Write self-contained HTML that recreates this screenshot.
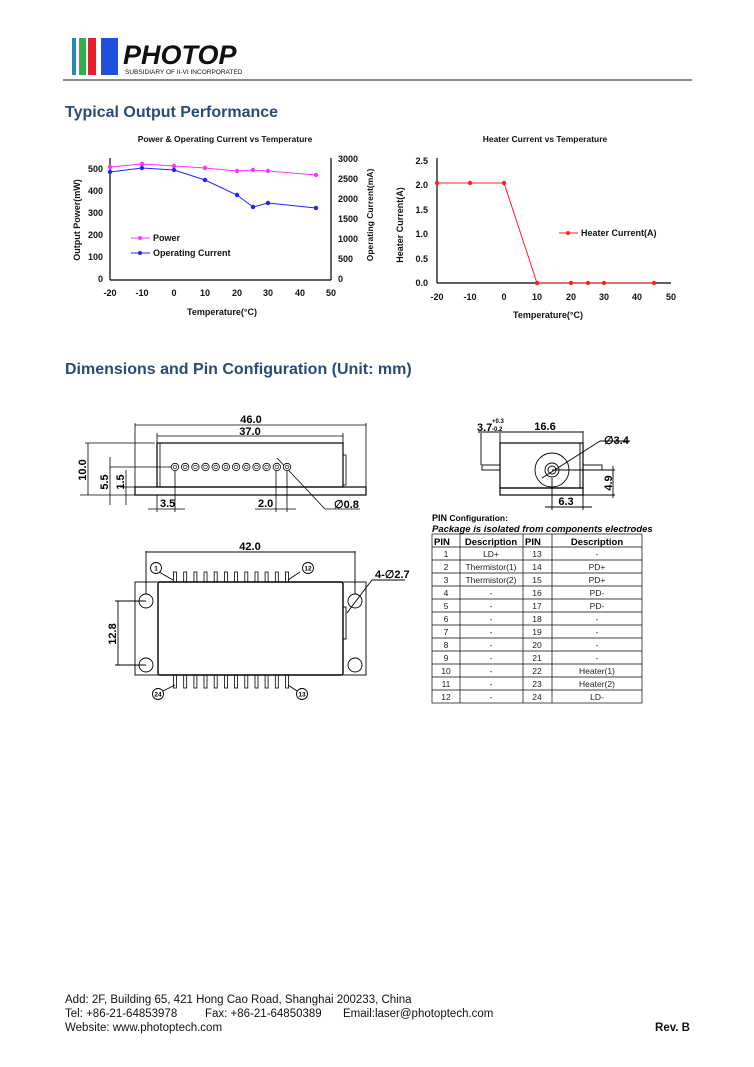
<!DOCTYPE html>
<html><head><meta charset="utf-8"><style>
body{margin:0;background:#fff;}
svg{display:block;font-family:"Liberation Sans",Arial,sans-serif;}
</style></head><body>
<svg width="754" height="1067" viewBox="0 0 754 1067" xmlns="http://www.w3.org/2000/svg">
<!-- logo -->
<rect x="72" y="38" width="4" height="37" fill="#1e8bb8"/>
<rect x="79" y="38" width="7" height="37" fill="#2eb04a"/>
<rect x="88" y="38" width="8" height="37" fill="#e8202a"/>
<rect x="101" y="38" width="17" height="37" fill="#1f4fe0"/>
<text x="123" y="64" font-size="27" font-weight="bold" font-style="italic" fill="#111">PHOTOP</text>
<text x="125" y="74" font-size="6.5" fill="#111">SUBSIDIARY OF II-VI INCORPORATED</text>
<line x1="63" y1="80" x2="692" y2="80" stroke="#666" stroke-width="1.5"/>
<text x="65" y="117" font-size="16" font-weight="bold" fill="#2a4a78">Typical Output Performance</text>

<!-- chart 1 -->
<g font-size="9" font-weight="bold" fill="#111">
<text x="225" y="142" text-anchor="middle" font-size="8.5">Power &amp; Operating Current vs Temperature</text>
<line x1="110" y1="158" x2="110" y2="280" stroke="#000" stroke-width="1.2"/>
<line x1="110" y1="280" x2="331" y2="280" stroke="#000" stroke-width="1.2"/>
<line x1="331" y1="158" x2="331" y2="280" stroke="#000" stroke-width="1.2"/>
<g text-anchor="end">
<text x="103" y="282">0</text><text x="103" y="260">100</text><text x="103" y="238">200</text><text x="103" y="216">300</text><text x="103" y="194">400</text><text x="103" y="172">500</text>
</g>
<g>
<text x="338" y="282">0</text><text x="338" y="262">500</text><text x="338" y="242">1000</text><text x="338" y="222">1500</text><text x="338" y="202">2000</text><text x="338" y="182">2500</text><text x="338" y="162">3000</text>
</g>
<g text-anchor="middle">
<text x="110" y="296">-20</text><text x="142" y="296">-10</text><text x="174" y="296">0</text><text x="205" y="296">10</text><text x="237" y="296">20</text><text x="268" y="296">30</text><text x="300" y="296">40</text><text x="331" y="296">50</text>
<text x="222" y="315">Temperature(°C)</text>
</g>
<text transform="translate(80,220) rotate(-90)" text-anchor="middle">Output Power(mW)</text>
<text transform="translate(373,215) rotate(-90)" text-anchor="middle" font-size="8.5">Operating Current(mA)</text>
<polyline fill="none" stroke="#ff33ff" stroke-width="1" points="110,167 142,164 174,166 205,168 237,171 253,170 268,171 316,175"/>
<g fill="#ff33ff"><circle cx="110" cy="167" r="2.2"/><circle cx="142" cy="164" r="2.2"/><circle cx="174" cy="166" r="2.2"/><circle cx="205" cy="168" r="2.2"/><circle cx="237" cy="171" r="2.2"/><circle cx="253" cy="170" r="2.2"/><circle cx="268" cy="171" r="2.2"/><circle cx="316" cy="175" r="2.2"/></g>
<polyline fill="none" stroke="#2222ff" stroke-width="1" points="110,172 142,168 174,170 205,180 237,195 253,207 268,203 316,208"/>
<g fill="#2222ff"><circle cx="110" cy="172" r="2.2"/><circle cx="142" cy="168" r="2.2"/><circle cx="174" cy="170" r="2.2"/><circle cx="205" cy="180" r="2.2"/><circle cx="237" cy="195" r="2.2"/><circle cx="253" cy="207" r="2.2"/><circle cx="268" cy="203" r="2.2"/><circle cx="316" cy="208" r="2.2"/></g>
<line x1="131" y1="238" x2="150" y2="238" stroke="#ff33ff"/><circle cx="140" cy="238" r="2" fill="#ff33ff"/>
<text x="153" y="241">Power</text>
<line x1="131" y1="253" x2="150" y2="253" stroke="#2222ff"/><circle cx="140" cy="253" r="2" fill="#2222ff"/>
<text x="153" y="256">Operating Current</text>
</g>

<!-- chart 2 -->
<g font-size="9" font-weight="bold" fill="#111">
<text x="545" y="142" text-anchor="middle" font-size="8.5">Heater Current vs Temperature</text>
<line x1="437" y1="158" x2="437" y2="283" stroke="#000" stroke-width="1.2"/>
<line x1="437" y1="283" x2="671" y2="283" stroke="#000" stroke-width="1.2"/>
<g text-anchor="end">
<text x="428" y="286">0.0</text><text x="428" y="262">0.5</text><text x="428" y="237">1.0</text><text x="428" y="213">1.5</text><text x="428" y="188">2.0</text><text x="428" y="164">2.5</text>
</g>
<g text-anchor="middle">
<text x="437" y="300">-20</text><text x="470" y="300">-10</text><text x="504" y="300">0</text><text x="537" y="300">10</text><text x="571" y="300">20</text><text x="604" y="300">30</text><text x="637" y="300">40</text><text x="671" y="300">50</text>
<text x="548" y="318">Temperature(°C)</text>
</g>
<text transform="translate(403,225) rotate(-90)" text-anchor="middle">Heater Current(A)</text>
<polyline fill="none" stroke="#ff2020" stroke-width="1" points="437,183 470,183 504,183 537,283 571,283 588,283 604,283 654,283"/>
<g fill="#ff2020"><circle cx="437" cy="183" r="2.2"/><circle cx="470" cy="183" r="2.2"/><circle cx="504" cy="183" r="2.2"/><circle cx="537" cy="283" r="2.2"/><circle cx="571" cy="283" r="2.2"/><circle cx="588" cy="283" r="2.2"/><circle cx="604" cy="283" r="2.2"/><circle cx="654" cy="283" r="2.2"/></g>
<line x1="559" y1="233" x2="578" y2="233" stroke="#ff2020"/><circle cx="568" cy="233" r="2" fill="#ff2020"/>
<text x="581" y="236">Heater Current(A)</text>
</g>

<text x="65" y="374" font-size="16" font-weight="bold" fill="#2a4a78">Dimensions and Pin Configuration (Unit: mm)</text>

<!-- side view -->
<g stroke="#000" fill="none" stroke-width="0.8">
<rect x="157" y="443" width="186" height="44" stroke-width="1.2"/>
<line x1="160" y1="443" x2="160" y2="487"/>
<rect x="135" y="487" width="231" height="8" stroke-width="1.2"/>
<rect x="343" y="455" width="3" height="30"/>
<line x1="135" y1="423" x2="135" y2="487"/><line x1="366" y1="423" x2="366" y2="487"/>
<line x1="135" y1="425" x2="366" y2="425"/>
<line x1="157" y1="436" x2="343" y2="436"/>
<line x1="157" y1="433" x2="157" y2="443"/><line x1="343" y1="433" x2="343" y2="443"/>
<line x1="85" y1="443" x2="155" y2="443"/>
<line x1="88" y1="443" x2="88" y2="495"/>
<line x1="110" y1="467" x2="175" y2="467"/>
<line x1="110" y1="457" x2="110" y2="505"/>
<line x1="126" y1="470" x2="126" y2="505"/>
<line x1="120" y1="487" x2="135" y2="487"/>
<line x1="80" y1="495" x2="135" y2="495"/>
<line x1="175" y1="467" x2="175" y2="512"/><line x1="157" y1="495" x2="157" y2="512"/>
<line x1="148" y1="509" x2="185" y2="509"/>
<line x1="276" y1="467" x2="276" y2="512"/><line x1="287" y1="467" x2="287" y2="512"/>
<line x1="255" y1="509" x2="296" y2="509"/>
<line x1="277" y1="458" x2="325" y2="509"/><line x1="325" y1="509" x2="360" y2="509"/>
</g>
<g fill="#fff" stroke="#000" stroke-width="0.8">
<circle cx="175" cy="467" r="3.7"/><circle cx="185.2" cy="467" r="3.7"/><circle cx="195.4" cy="467" r="3.7"/><circle cx="205.5" cy="467" r="3.7"/><circle cx="215.7" cy="467" r="3.7"/><circle cx="225.9" cy="467" r="3.7"/><circle cx="236.1" cy="467" r="3.7"/><circle cx="246.3" cy="467" r="3.7"/><circle cx="256.5" cy="467" r="3.7"/><circle cx="266.6" cy="467" r="3.7"/><circle cx="276.8" cy="467" r="3.7"/><circle cx="287" cy="467" r="3.7"/>
</g>
<g fill="none" stroke="#000" stroke-width="0.6">
<circle cx="175" cy="467" r="1.8"/><circle cx="185.2" cy="467" r="1.8"/><circle cx="195.4" cy="467" r="1.8"/><circle cx="205.5" cy="467" r="1.8"/><circle cx="215.7" cy="467" r="1.8"/><circle cx="225.9" cy="467" r="1.8"/><circle cx="236.1" cy="467" r="1.8"/><circle cx="246.3" cy="467" r="1.8"/><circle cx="256.5" cy="467" r="1.8"/><circle cx="266.6" cy="467" r="1.8"/><circle cx="276.8" cy="467" r="1.8"/><circle cx="287" cy="467" r="1.8"/>
</g>
<g font-size="11" font-weight="bold" fill="#000">
<text x="251" y="423" text-anchor="middle">46.0</text>
<text x="250" y="435" text-anchor="middle">37.0</text>
<text transform="translate(86,470) rotate(-90)" text-anchor="middle">10.0</text>
<text transform="translate(108,482) rotate(-90)" text-anchor="middle">5.5</text>
<text transform="translate(124,482) rotate(-90)" text-anchor="middle">1.5</text>
<text x="160" y="507">3.5</text>
<text x="258" y="507">2.0</text>
<text x="334" y="508">∅0.8</text>
</g>

<!-- bottom view -->
<g stroke="#000" fill="none" stroke-width="0.9">
<rect x="135" y="582" width="231" height="93"/>
<rect x="158" y="582" width="185" height="93" rx="2" stroke-width="1.4"/>
<circle cx="146" cy="601" r="7"/><circle cx="146" cy="665" r="7"/><circle cx="355" cy="601" r="7"/><circle cx="355" cy="665" r="7"/>
<rect x="343" y="607" width="3" height="32"/>
<line x1="146" y1="551" x2="146" y2="594"/><line x1="355" y1="551" x2="355" y2="594"/>
<line x1="146" y1="552" x2="355" y2="552"/>
<line x1="115" y1="601" x2="146" y2="601"/><line x1="115" y1="665" x2="146" y2="665"/>
<line x1="118" y1="601" x2="118" y2="665"/>
<line x1="347" y1="613" x2="365" y2="589"/><line x1="365" y1="589" x2="372" y2="580"/><line x1="372" y1="580" x2="405" y2="580"/>
<line x1="159" y1="572" x2="173" y2="580"/><line x1="300" y1="572" x2="288" y2="580"/>
<line x1="163" y1="691" x2="175" y2="685"/><line x1="297" y1="691" x2="288" y2="685"/>
<g stroke-width="0.8">
<rect x="173.5" y="572" width="3" height="10"/><rect x="183.7" y="572" width="3" height="10"/><rect x="193.9" y="572" width="3" height="10"/><rect x="204" y="572" width="3" height="10"/><rect x="214.2" y="572" width="3" height="10"/><rect x="224.4" y="572" width="3" height="10"/><rect x="234.6" y="572" width="3" height="10"/><rect x="244.8" y="572" width="3" height="10"/><rect x="255" y="572" width="3" height="10"/><rect x="265.1" y="572" width="3" height="10"/><rect x="275.3" y="572" width="3" height="10"/><rect x="285.5" y="572" width="3" height="10"/>
<rect x="173.5" y="675" width="3" height="13"/><rect x="183.7" y="675" width="3" height="13"/><rect x="193.9" y="675" width="3" height="13"/><rect x="204" y="675" width="3" height="13"/><rect x="214.2" y="675" width="3" height="13"/><rect x="224.4" y="675" width="3" height="13"/><rect x="234.6" y="675" width="3" height="13"/><rect x="244.8" y="675" width="3" height="13"/><rect x="255" y="675" width="3" height="13"/><rect x="265.1" y="675" width="3" height="13"/><rect x="275.3" y="675" width="3" height="13"/><rect x="285.5" y="675" width="3" height="13"/>
</g>
<circle cx="156" cy="568" r="5.5"/><circle cx="308" cy="568" r="5.5"/><circle cx="158" cy="694" r="5.5"/><circle cx="302" cy="694" r="5.5"/>
</g>
<g font-weight="bold" fill="#000">
<text x="250" y="550" text-anchor="middle" font-size="11">42.0</text>
<text transform="translate(116,634) rotate(-90)" text-anchor="middle" font-size="11">12.8</text>
<text x="375" y="578" font-size="11">4-∅2.7</text>
<g font-size="6.5" text-anchor="middle"><text x="156" y="570.5">1</text><text x="308" y="570.5">12</text><text x="158" y="696.5">24</text><text x="302" y="696.5">13</text></g>
</g>

<!-- end view -->
<g stroke="#000" fill="none" stroke-width="0.9">
<rect x="500" y="443" width="83" height="45" stroke-width="1.2"/>
<rect x="500" y="488" width="83" height="7" stroke-width="1.2"/>
<line x1="580" y1="443" x2="580" y2="488"/>
<rect x="482" y="465" width="18" height="5"/><rect x="583" y="465" width="19" height="5"/>
<circle cx="552" cy="470" r="17"/><circle cx="552" cy="470" r="7"/><circle cx="552" cy="470" r="4"/>
<line x1="481" y1="433" x2="481" y2="465"/><line x1="500" y1="433" x2="500" y2="443"/><line x1="583" y1="431" x2="583" y2="443"/>
<line x1="478" y1="432" x2="583" y2="432"/>
<line x1="542" y1="478" x2="600" y2="441"/><line x1="600" y1="441" x2="630" y2="441"/>
<line x1="552" y1="470" x2="615" y2="470"/><line x1="583" y1="495" x2="615" y2="495"/>
<line x1="613" y1="466" x2="613" y2="498"/>
<line x1="552" y1="478" x2="552" y2="510"/><line x1="583" y1="495" x2="583" y2="510"/>
<line x1="545" y1="507" x2="592" y2="507"/>
</g>
<g font-weight="bold" fill="#000" font-size="11">
<text x="477" y="431">3.7</text>
<text x="492" y="423" font-size="6">+0.3</text>
<text x="492" y="431" font-size="6">-0.2</text>
<text x="545" y="430" text-anchor="middle">16.6</text>
<text x="604" y="444">∅3.4</text>
<text transform="translate(612,483) rotate(-90)" text-anchor="middle">4.9</text>
<text x="566" y="505" text-anchor="middle">6.3</text>
</g>

<!-- table -->
<text x="432" y="521" font-size="8.5" font-weight="bold"><tspan font-size="9">PIN</tspan> Configuration:</text>
<text x="432" y="532" font-size="9.5" font-weight="bold" font-style="italic">Package is isolated from components electrodes</text>
<g stroke="#000" stroke-width="0.7" fill="none">
<rect x="432" y="534" width="210" height="169"/>
<line x1="460" y1="534" x2="460" y2="703"/><line x1="523" y1="534" x2="523" y2="703"/><line x1="552" y1="534" x2="552" y2="703"/>
<line x1="432" y1="547" x2="642" y2="547"/><line x1="432" y1="560" x2="642" y2="560"/><line x1="432" y1="573" x2="642" y2="573"/><line x1="432" y1="586" x2="642" y2="586"/><line x1="432" y1="599" x2="642" y2="599"/><line x1="432" y1="612" x2="642" y2="612"/><line x1="432" y1="625" x2="642" y2="625"/><line x1="432" y1="638" x2="642" y2="638"/><line x1="432" y1="651" x2="642" y2="651"/><line x1="432" y1="664" x2="642" y2="664"/><line x1="432" y1="677" x2="642" y2="677"/><line x1="432" y1="690" x2="642" y2="690"/>
</g>
<g font-size="9.5" font-weight="bold"><text x="434" y="545">PIN</text><text x="491" y="545" text-anchor="middle">Description</text><text x="525" y="545">PIN</text><text x="597" y="545" text-anchor="middle">Description</text></g>
<g font-size="8.5" text-anchor="middle" fill="#222">
<text x="446" y="557">1</text><text x="491" y="557">LD+</text><text x="537" y="557">13</text><text x="597" y="557">-</text>
<text x="446" y="570">2</text><text x="491" y="570">Thermistor(1)</text><text x="537" y="570">14</text><text x="597" y="570">PD+</text>
<text x="446" y="583">3</text><text x="491" y="583">Thermistor(2)</text><text x="537" y="583">15</text><text x="597" y="583">PD+</text>
<text x="446" y="596">4</text><text x="491" y="596">-</text><text x="537" y="596">16</text><text x="597" y="596">PD-</text>
<text x="446" y="609">5</text><text x="491" y="609">-</text><text x="537" y="609">17</text><text x="597" y="609">PD-</text>
<text x="446" y="622">6</text><text x="491" y="622">-</text><text x="537" y="622">18</text><text x="597" y="622">-</text>
<text x="446" y="635">7</text><text x="491" y="635">-</text><text x="537" y="635">19</text><text x="597" y="635">-</text>
<text x="446" y="648">8</text><text x="491" y="648">-</text><text x="537" y="648">20</text><text x="597" y="648">-</text>
<text x="446" y="661">9</text><text x="491" y="661">-</text><text x="537" y="661">21</text><text x="597" y="661">-</text>
<text x="446" y="674">10</text><text x="491" y="674">-</text><text x="537" y="674">22</text><text x="597" y="674">Heater(1)</text>
<text x="446" y="687">11</text><text x="491" y="687">-</text><text x="537" y="687">23</text><text x="597" y="687">Heater(2)</text>
<text x="446" y="700">12</text><text x="491" y="700">-</text><text x="537" y="700">24</text><text x="597" y="700">LD-</text>
</g>

<!-- footer -->
<g font-size="11.5" fill="#111">
<text x="65" y="1003">Add: 2F, Building 65, 421 Hong Cao Road, Shanghai 200233, China</text>
<text x="65" y="1017">Tel: +86-21-64853978 <tspan x="205">Fax: +86-21-64850389</tspan><tspan x="343">Email:laser@photoptech.com</tspan></text>
<text x="65" y="1031">Website: www.photoptech.com</text>
<text x="690" y="1031" text-anchor="end" font-weight="bold">Rev. B</text>
</g>
</svg>
</body></html>
